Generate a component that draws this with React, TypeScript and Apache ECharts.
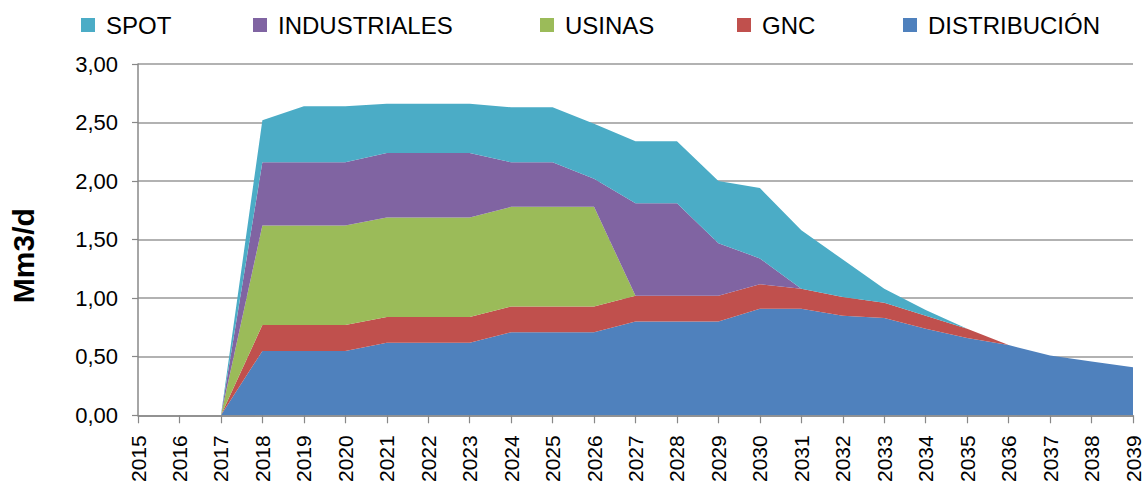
import React, { useEffect, useRef } from "react";
import * as echarts from "echarts";

const years = ["2015","2016","2017","2018","2019","2020","2021","2022","2023","2024","2025","2026","2027","2028","2029","2030","2031","2032","2033","2034","2035","2036","2037","2038","2039"];

const distribucion = [0,0,0,0.55,0.55,0.55,0.62,0.62,0.62,0.71,0.71,0.71,0.80,0.80,0.80,0.91,0.91,0.85,0.83,0.74,0.66,0.60,0.51,0.46,0.41];
const gnc = [0,0,0,0.22,0.22,0.22,0.22,0.22,0.22,0.22,0.22,0.22,0.22,0.22,0.22,0.21,0.17,0.16,0.13,0.11,0.08,0,0,0,0];
const usinas = [0,0,0,0.85,0.85,0.85,0.85,0.85,0.85,0.85,0.85,0.85,0,0,0,0,0,0,0,0,0,0,0,0,0];
const industriales = [0,0,0,0.54,0.54,0.54,0.55,0.55,0.55,0.38,0.38,0.24,0.79,0.79,0.45,0.22,0,0,0,0,0,0,0,0,0];
const spot = [0,0,0,0.36,0.48,0.48,0.42,0.42,0.42,0.47,0.47,0.47,0.53,0.53,0.53,0.60,0.50,0.32,0.12,0.05,0,0,0,0,0];

const names = ["SPOT", "INDUSTRIALES", "USINAS", "GNC", "DISTRIBUCIÓN"];
const colors: Record<string, string> = {
  "SPOT": "#4BACC6",
  "INDUSTRIALES": "#8064A2",
  "USINAS": "#9BBB59",
  "GNC": "#C0504D",
  "DISTRIBUCIÓN": "#4F81BD",
};
const legendLeft = [81, 253, 540, 737, 903];

const FONT = "Liberation Sans";

export default function App() {
  const ref = useRef<HTMLDivElement>(null);
  useEffect(() => {
    if (!ref.current) return;
    const chart = echarts.init(ref.current, undefined, { renderer: "svg" });
    const stackOrder: [string, number[]][] = [
      ["DISTRIBUCIÓN", distribucion],
      ["GNC", gnc],
      ["USINAS", usinas],
      ["INDUSTRIALES", industriales],
      ["SPOT", spot],
    ];
    chart.setOption({
      animation: false,
      backgroundColor: "#ffffff",
      legend: names.map((n, i) => ({
        data: [n],
        left: legendLeft[i],
        top: 13,
        padding: 0,
        icon: "rect",
        itemWidth: 14,
        itemHeight: 14,
        itemGap: 0,
        textStyle: { fontFamily: FONT, fontSize: 24, color: "#000", padding: [0, 0, 0, 6] },
      })),
      grid: { left: 134, right: 11, top: 64, bottom: 68, containLabel: false },
      xAxis: {
        type: "category",
        data: years,
        boundaryGap: false,
        axisLine: { lineStyle: { color: "#888", width: 1.5 } },
        axisTick: { show: true, alignWithLabel: true, length: 8, lineStyle: { color: "#888", width: 1.2 } },
        axisLabel: { rotate: 90, fontFamily: FONT, fontSize: 21, color: "#000", margin: 20, interval: 0 },
        splitLine: { show: false },
      },
      yAxis: {
        type: "value",
        min: 0,
        max: 3,
        interval: 0.5,
        name: "Mm3/d",
        nameLocation: "middle",
        nameGap: 100,
        nameRotate: 90,
        nameTextStyle: { fontFamily: FONT, fontSize: 30, fontWeight: "bold", color: "#000", padding: [0, 32, 0, 0] },
        axisLine: { show: true, lineStyle: { color: "#888", width: 1.5 } },
        axisTick: { show: true, length: 6, lineStyle: { color: "#888", width: 1.2 } },
        axisLabel: {
          fontFamily: FONT,
          fontSize: 22,
          color: "#000",
          margin: 20,
          formatter: (v: number) => v.toFixed(2).replace(".", ","),
        },
        splitLine: { show: true, lineStyle: { color: "#999", width: 1.5 } },
      },
      series: stackOrder.map(([n, d]) => ({
        name: n,
        type: "line",
        stack: "total",
        data: d,
        showSymbol: false,
        symbol: "none",
        color: colors[n],
        lineStyle: { width: 0 },
        areaStyle: { color: colors[n], opacity: 1 },
        emphasis: { disabled: true },
      })),
    });
    return () => chart.dispose();
  }, []);
  return (
    <div
      ref={ref}
      style={{ position: "fixed", left: 0, top: 0, width: 1144, height: 485 }}
    />
  );
}
